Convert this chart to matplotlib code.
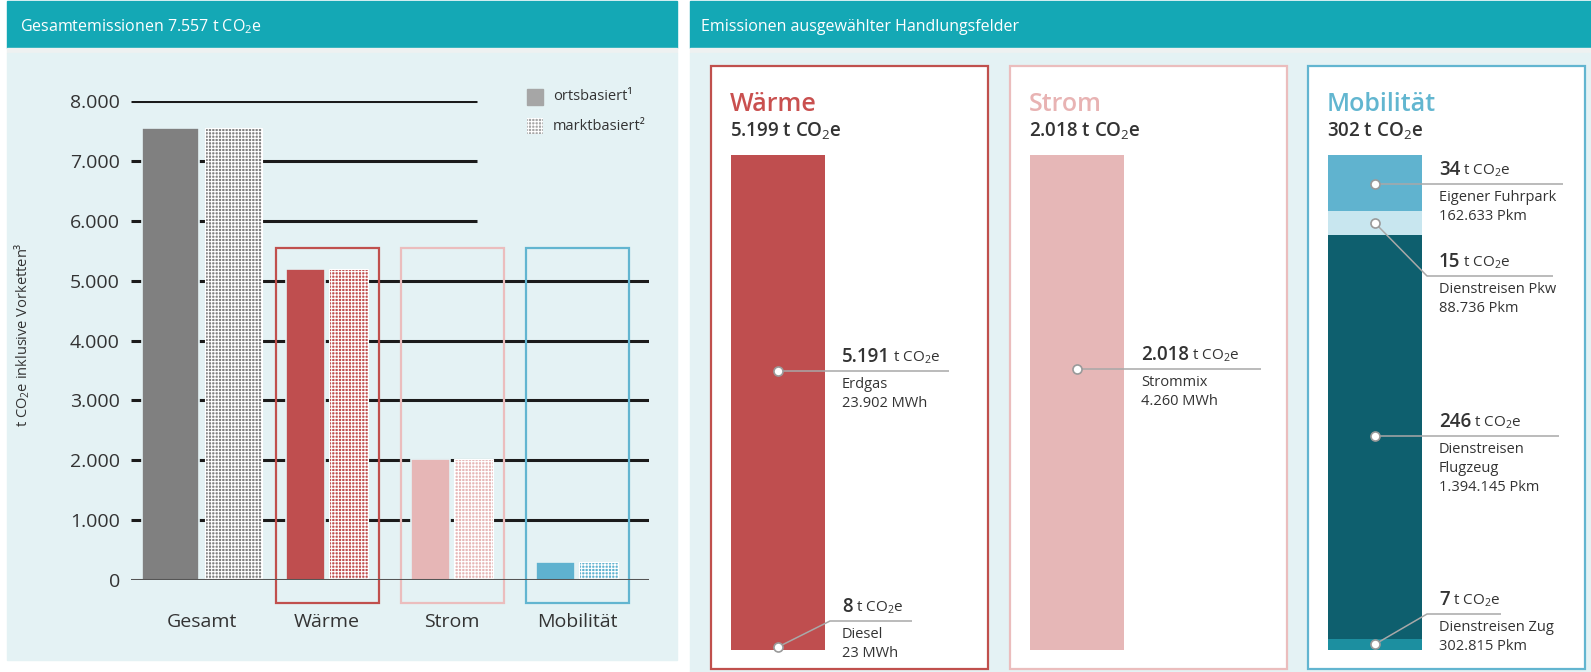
import matplotlib
matplotlib.use('Agg')
import numpy as np
import matplotlib.pyplot as plt
from matplotlib.patches import Rectangle

plt.rcParams['font.family'] = ['Open Sans', 'DejaVu Sans']
plt.rcParams['mathtext.fontset'] = 'custom'
plt.rcParams['mathtext.rm'] = 'Open Sans'
plt.rcParams['mathtext.it'] = 'Open Sans:italic'
plt.rcParams['mathtext.bf'] = 'Open Sans:bold'
plt.rcParams['hatch.linewidth'] = 0.8

# ---- data ----
categories = ['Gesamt', 'Wärme', 'Strom', 'Mobilität']
ortsbasiert = [7557, 5199, 2018, 302]
marktbasiert = [7557, 5199, 2018, 302]
yticks = [0, 1000, 2000, 3000, 4000, 5000, 6000, 7000, 8000]

# stacked from bottom to top
waerme_labels = ['Diesel', 'Erdgas']
waerme_values = [8, 5191]
waerme_units = ['23 MWh', '23.902 MWh']

strom_labels = ['Strommix']
strom_values = [2018]
strom_units = ['4.260 MWh']

mob_labels = ['Dienstreisen Zug', 'Dienstreisen\nFlugzeug', 'Dienstreisen Pkw', 'Eigener Fuhrpark']
mob_values = [7, 246, 15, 34]
mob_units = ['302.815 Pkm', '1.394.145 Pkm', '88.736 Pkm', '162.633 Pkm']

# ---- colours ----
TEAL = '#14a8b5'
BG = '#e4f2f4'
TXT = '#333333'
group_colors = ['#808080', '#bf4e4f', '#e6b6b6', '#5fb2cf']
frame_colors = [None, '#c0504d', '#ebbdbd', '#62b5d0']
title_colors = ['#c9504f', '#e8b3b3', '#62b6d0']


def fmt(v):
    return f'{v:,}'.replace(',', '.')


W, H = 1591, 672
fig = plt.figure(figsize=(W / 100, H / 100), dpi=100)
fig.patch.set_facecolor('white')


def box(x0, y0, x1, y1):
    return [x0 / W, 1 - y1 / H, (x1 - x0) / W, (y1 - y0) / H]


bg = fig.add_axes([0, 0, 1, 1], zorder=0)
bg.set_xlim(0, W)
bg.set_ylim(H, 0)
bg.axis('off')

fg = fig.add_axes([0, 0, 1, 1], zorder=5)
fg.set_xlim(0, W)
fg.set_ylim(H, 0)
fg.axis('off')

# panel backgrounds and headers
bg.add_patch(Rectangle((7, 1), 670, 47, color=TEAL))
bg.add_patch(Rectangle((7, 48), 670, 5, color='#eef1f1'))
bg.add_patch(Rectangle((7, 53), 670, 607, color=BG))
bg.add_patch(Rectangle((690, 1), 901, 47, color=TEAL))
bg.add_patch(Rectangle((690, 48), 901, 5, color='#eef1f1'))
bg.add_patch(Rectangle((690, 53), 901, 619, color=BG))

bg.text(20, 27, f'Gesamtemissionen {fmt(ortsbasiert[0])} t CO$_2$e', color='white',
        fontsize=11.5, va='center')
bg.text(701, 27, 'Emissionen ausgewählter Handlungsfelder', color='white',
        fontsize=11.5, va='center')

# ---- left chart ----
ax = fig.add_axes(box(131, 101, 649, 580), zorder=2)
ax.patch.set_alpha(0)
ax.set_xlim(-0.568, 3.576)
ax.set_ylim(0, 8000)
for s in ax.spines.values():
    s.set_visible(False)

for t in yticks[1:]:
    ax.hlines(t, 0, 0.668 if t > 5500 else 1.0, transform=ax.get_yaxis_transform(),
              color='#1b1b1b', lw=2.2, zorder=1)
ax.axhline(0, color='#555555', lw=2.2, zorder=4)

x = np.arange(len(categories))
widths = np.array([0.456, 0.312, 0.312, 0.312])
offs = np.array([0.252, 0.172, 0.172, 0.172])
ax.bar(x - offs, ortsbasiert, width=widths, color=group_colors, edgecolor=BG, lw=1.2, zorder=2)
ax.bar(x + offs, marktbasiert, width=widths, color=group_colors, edgecolor='white',
       hatch='+++++', lw=0.8, zorder=2)

frame_top = max(ortsbasiert[1:]) + 350
for i in range(1, len(categories)):
    ax.add_patch(Rectangle((i - 0.412, -385), 0.824, frame_top + 385, fill=False,
                           edgecolor=frame_colors[i], lw=1.6, clip_on=False, zorder=3))

ax.set_yticks(yticks, [fmt(t) for t in yticks])
ax.set_xticks(x, categories)
ax.tick_params(axis='y', length=0, pad=8, labelsize=14, labelcolor=TXT)
ax.tick_params(axis='x', length=0, pad=24, labelsize=14, labelcolor=TXT)

fig.text(22 / W, 1 - 335 / H, 't CO$_2$e inklusive Vorketten³', rotation=90,
         fontsize=10.5, color=TXT, ha='center', va='center')

# legend
bg.add_patch(Rectangle((527, 89), 16, 16, color='#a6a6a6'))
bg.add_patch(Rectangle((527, 118), 16, 16, facecolor='#a6a6a6', edgecolor='white',
                       hatch='+++++', lw=0))
bg.text(553, 97, 'ortsbasiert¹', fontsize=10.5, color=TXT, va='center')
bg.text(553, 126, 'marktbasiert²', fontsize=10.5, color=TXT, va='center')

# ---- right cards ----
renderer = fig.canvas.get_renderer()
card_x = [711, 1010, 1308]
card_titles = ['Wärme', 'Strom', 'Mobilität']
cards = [
    (waerme_values, waerme_labels, waerme_units, ['#bf4e4f', '#bf4e4f']),
    (strom_values, strom_labels, strom_units, ['#e6b7b7']),
    (mob_values, mob_labels, mob_units, ['#1c8fa0', '#0e5f6e', '#c8e6ef', '#60b3cf']),
]
# label layout: (line y, line end offset from text x)
label_layout = [
    [(621, 70), (371, 107)],
    [(369, 120)],
    [(614, 62), (436, 120), (276, 114), (184, 124)],
]


def annotate(xd, seg_top, seg_bot, line_y, tx, line_len, value, desc):
    if seg_top <= line_y <= seg_bot:
        dot_y = line_y
        xs, ys = [xd, tx + line_len], [line_y, line_y]
    else:
        dot_y = min((seg_top + seg_bot) / 2, seg_bot - 3)
        xs, ys = [xd, tx - 12, tx + line_len], [dot_y, line_y, line_y]
    fg.plot(xs, ys, color='#a8a8a8', lw=1.1, zorder=3, solid_capstyle='butt')
    fg.plot([xd], [dot_y], 'o', ms=6.5, mfc='white', mec='#9a9a9a', mew=1.2, zorder=4)
    t = fg.text(tx, line_y - 9, fmt(value), fontsize=13.5, fontweight='semibold',
                color=TXT, va='baseline')
    bb = t.get_window_extent(renderer)
    fg.text(bb.x1 + 3, line_y - 9, 't CO$_2$e', fontsize=11, color=TXT, va='baseline')
    for k, s in enumerate(desc.split('\n')):
        fg.text(tx, line_y + 17 + 19 * k, s, fontsize=10.5, color=TXT, va='baseline')


for c, cx in enumerate(card_x):
    values, labels, units, colors = cards[c]
    bg.add_patch(Rectangle((cx, 66), 277, 603, facecolor='white',
                           edgecolor=frame_colors[c + 1], lw=1.6))
    bg.text(cx + 19, 111, card_titles[c], fontsize=18, fontweight='semibold',
            color=title_colors[c], va='baseline')
    total = sum(values)
    bg.text(cx + 19, 136, f'{fmt(total)} t CO$_2$e', fontsize=13.5, fontweight='semibold',
            color=TXT, va='baseline')

    bx = fig.add_axes(box(cx + 20, 155, cx + 114, 650), zorder=2)
    bx.set_xlim(-0.5, 0.5)
    bx.set_ylim(0, total)
    bx.axis('off')
    bottoms = np.concatenate([[0], np.cumsum(values)[:-1]])
    bx.bar(0, values, bottom=bottoms, width=1, color=colors, lw=0)

    xd = cx + 20 + 47
    for i, v in enumerate(values):
        y0 = H - bx.transData.transform((0, bottoms[i]))[1]
        y1 = H - bx.transData.transform((0, bottoms[i] + v))[1]
        line_y, line_len = label_layout[c][i]
        annotate(xd, y1, y0, line_y, cx + 131, line_len, v, labels[i] + '\n' + units[i])

fig.savefig('out.png', dpi=100)
